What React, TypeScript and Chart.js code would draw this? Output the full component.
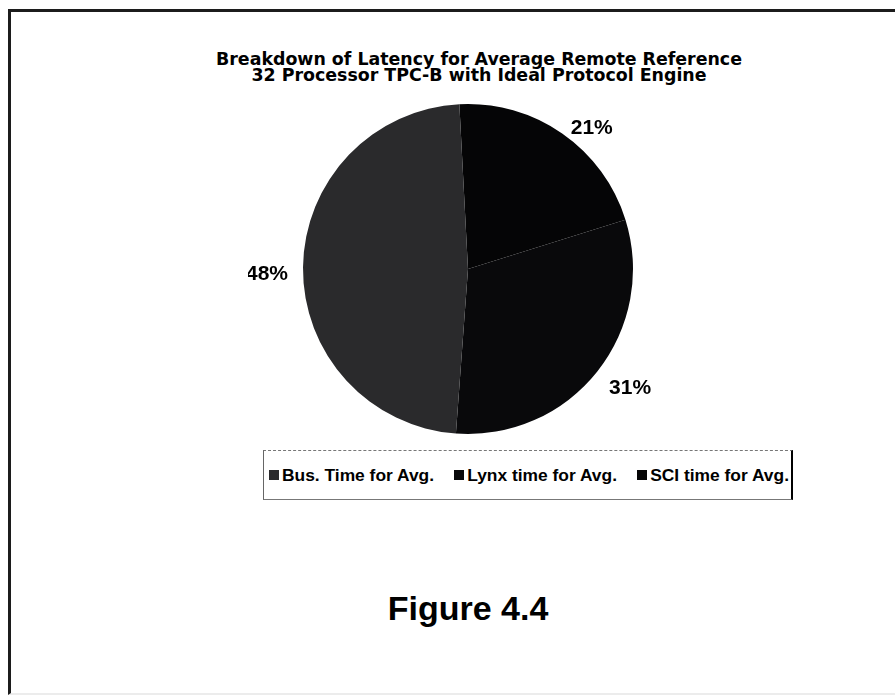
import React, { useEffect, useRef } from "react";
import { Chart, registerables } from "chart.js";
Chart.register(...registerables);

const categories = ["Bus. Time for Avg.", "Lynx time for Avg.", "SCI time for Avg."];
const percentages = [48, 31, 21];
const sliceColors = ["#2a2a2c", "#09090b", "#050506"];
const titleLines = [
  "Breakdown of Latency for Average Remote Reference",
  "32 Processor TPC-B with Ideal Protocol Engine",
];
const caption = "Figure 4.4";
// the original pie runs counter-clockwise from 12 o'clock; Chart.js draws clockwise
const drawOrder = [2, 1, 0];

const FONT = "'Liberation Sans', Arial, Helvetica, sans-serif";
const TITLE_FONT = "'DejaVu Sans', 'Liberation Sans', sans-serif";

const pctLabels = {
  id: "pctLabels",
  afterDatasetsDraw(chart: any) {
    const ctx = chart.ctx;
    const meta = chart.getDatasetMeta(0);
    const vals = chart.data.datasets[0].data;
    ctx.save();
    ctx.font = `bold 21px ${FONT}`;
    ctx.fillStyle = "#000";
    ctx.textBaseline = "middle";
    meta.data.forEach((arc: any, i: number) => {
      const p = arc.getProps(["x", "y", "startAngle", "endAngle", "outerRadius"], true);
      const mid = (p.startAngle + p.endAngle) / 2;
      const text = `${vals[i]}%`;
      const ux = Math.cos(mid);
      const uy = Math.sin(mid);
      const r = p.outerRadius + 15;
      ctx.textAlign = ux >= 0 ? "left" : "right";
      ctx.fillText(text, p.x + ux * r, p.y + uy * r + 7);
    });
    ctx.restore();
  },
};

export default function App() {
  const ref = useRef<HTMLCanvasElement>(null);
  useEffect(() => {
    if (!ref.current) return;
    const chart = new Chart(ref.current, {
      type: "pie",
      data: {
        labels: drawOrder.map((i) => categories[i]),
        datasets: [
          {
            data: drawOrder.map((i) => percentages[i]),
            backgroundColor: drawOrder.map((i) => sliceColors[i]),
            borderWidth: 0,
          },
        ],
      },
      options: {
        responsive: false,
        animation: false,
        rotation: -3,
        radius: 165,
        layout: { padding: 0 },
        plugins: {
          legend: { display: false },
          tooltip: { enabled: false },
          title: { display: false },
        },
      },
      plugins: [pctLabels],
    });
    return () => chart.destroy();
  }, []);

  return (
    <div
      style={{
        position: "absolute",
        left: 0,
        top: 0,
        width: 895,
        height: 696,
        overflow: "hidden",
        background: "#fff",
        fontFamily: FONT,
      }}
    >
      <div
        style={{
          position: "absolute",
          left: 8,
          top: 9,
          width: 960,
          height: 681,
          borderLeft: "3px solid #1c1c1c",
          borderTop: "3px solid #1c1c1c",
          borderBottom: "2px solid #ececec",
        }}
      />
      <div
        style={{
          position: "absolute",
          left: 59,
          top: 51,
          width: 840,
          textAlign: "center",
          fontFamily: TITLE_FONT,
          fontWeight: "bold",
          fontSize: 17.4,
          lineHeight: "16px",
          color: "#000",
          whiteSpace: "nowrap",
        }}
      >
        {titleLines.map((t) => (
          <div key={t}>{t}</div>
        ))}
      </div>
      <canvas
        ref={ref}
        width={440}
        height={340}
        style={{ position: "absolute", left: 248, top: 99, width: 440, height: 340 }}
      />
      <div
        style={{
          position: "absolute",
          left: 263,
          top: 450,
          width: 520,
          height: 48,
          borderTop: "1px dashed #777",
          borderBottom: "1px solid #777",
          borderLeft: "1px solid #666",
          borderRight: "2px solid #000",
          display: "flex",
          alignItems: "center",
          justifyContent: "space-between",
          padding: "0 2px 0 5px",
          boxSizing: "content-box",
          fontWeight: "bold",
          fontSize: 17.4,
          color: "#000",
          whiteSpace: "nowrap",
        }}
      >
        {categories.map((c, i) => (
          <div key={c} style={{ display: "flex", alignItems: "center", gap: 3 }}>
            <span
              style={{ display: "inline-block", width: 10, height: 10, background: sliceColors[i] }}
            />
            <span>{c}</span>
          </div>
        ))}
      </div>
      <div
        style={{
          position: "absolute",
          left: 368,
          top: 591,
          width: 200,
          textAlign: "center",
          fontWeight: "bold",
          fontSize: 34,
          lineHeight: "34px",
          color: "#000",
        }}
      >
        {caption}
      </div>
    </div>
  );
}
